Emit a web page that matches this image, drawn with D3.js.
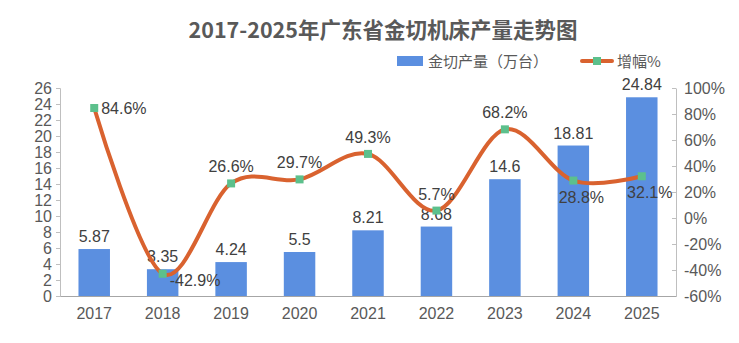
<!DOCTYPE html>
<html>
<head>
<meta charset="utf-8">
<script src="https://cdn.jsdelivr.net/npm/d3@7/dist/d3.min.js"></script>
<style>
  html, body { margin: 0; padding: 0; background: #fff; }
  svg { display: block; font-family: "Liberation Sans", Arial, "Noto Sans CJK SC", sans-serif; }
</style>
</head>
<body>
<svg id="chart" width="739" height="343"></svg>
<script>
// Guangdong metal-cutting machine tool output, 2017-2025
const years = ["2017", "2018", "2019", "2020", "2021", "2022", "2023", "2024", "2025"];
const output = [5.87, 3.35, 4.24, 5.5, 8.21, 8.68, 14.6, 18.81, 24.84];   // 万台
const growth = [84.6, -42.9, 26.6, 29.7, 49.3, 5.7, 68.2, 28.8, 32.1];    // %
const leftTicks = d3.range(0, 27, 2);
const rightTicks = d3.range(-60, 101, 20);
// where each growth label sits relative to its point
const growthLabelPos = ["right", "right", "above", "above", "above", "above", "above", "below", "below"];

const svg = d3.select("#chart");
const margin = { left: 60, right: 63, top: 88, bottom: 47 };
const W = 739, H = 343;
const x0 = margin.left, x1 = W - margin.right, yTop = margin.top, yBot = H - margin.bottom;

const axisColor = "#bfbfbf";
const textColor = "#595959";
const labelColor = "#404040";
const barColor = "#5b8fe0";
const lineColor = "#d9622f";
const markColor = "#5cc08c";

const x = d3.scaleBand().domain(years).range([x0, x1]).paddingInner(0.54).paddingOuter(0.27);
const yL = d3.scaleLinear().domain([0, 26]).range([yBot, yTop]);
const yR = d3.scaleLinear().domain([-60, 100]).range([yBot, yTop]);

// title
svg.append("text")
  .attr("x", 383).attr("y", 38)
  .attr("text-anchor", "middle")
  .attr("font-family", "'Noto Sans CJK SC', sans-serif")
  .attr("font-weight", "bold")
  .attr("font-size", 21.5)
  .attr("fill", textColor)
  .text("2017-2025年广东省金切机床产量走势图");

// legend
const lg = svg.append("g").attr("font-family", "'Noto Sans CJK SC', sans-serif").attr("font-size", 15).attr("fill", textColor);
lg.append("rect").attr("x", 397).attr("y", 56).attr("width", 26).attr("height", 10).attr("fill", barColor);
lg.append("text").attr("x", 428).attr("y", 66.5).text("金切产量（万台）");
lg.append("line").attr("x1", 582).attr("x2", 612).attr("y1", 61).attr("y2", 61)
  .attr("stroke", lineColor).attr("stroke-width", 4).attr("stroke-linecap", "round");
lg.append("rect").attr("x", 593).attr("y", 57).attr("width", 8).attr("height", 8).attr("fill", markColor);
lg.append("text").attr("x", 617).attr("y", 66.5).text("增幅%");

// left axis
const gL = svg.append("g").attr("transform", `translate(${x0},0)`)
  .call(d3.axisLeft(yL).tickValues(leftTicks).tickSize(4).tickPadding(4).tickFormat(d3.format("d")));
gL.select(".domain").attr("stroke", axisColor);
gL.selectAll(".tick line").attr("stroke", axisColor);
gL.selectAll(".tick text").attr("fill", textColor).attr("font-size", 16).attr("font-family", "'Liberation Sans', Arial, sans-serif");

// right axis (ticks point inward)
const gR = svg.append("g").attr("transform", `translate(${x1},0)`)
  .call(d3.axisRight(yR).tickValues(rightTicks).tickSize(0).tickPadding(8).tickFormat(d => d + "%"));
gR.select(".domain").attr("stroke", axisColor);
gR.selectAll(".tick").append("line").attr("x1", -4).attr("x2", 0).attr("stroke", axisColor);
gR.selectAll(".tick text").attr("fill", textColor).attr("font-size", 16).attr("font-family", "'Liberation Sans', Arial, sans-serif");

// bars
svg.append("g").selectAll("rect").data(output).join("rect")
  .attr("x", (d, i) => x(years[i]))
  .attr("width", x.bandwidth())
  .attr("y", d => yL(d))
  .attr("height", d => yBot - yL(d))
  .attr("fill", barColor);

// bottom axis
const gB = svg.append("g").attr("transform", `translate(0,${yBot})`)
  .call(d3.axisBottom(x).tickSize(0).tickPadding(12));
gB.select(".domain").attr("stroke", "#a6a6a6");
gB.selectAll(".tick text").attr("fill", textColor).attr("font-size", 16).attr("font-family", "'Liberation Sans', Arial, sans-serif");

// bar value labels
svg.append("g").selectAll("text").data(output).join("text")
  .attr("x", (d, i) => x(years[i]) + x.bandwidth() / 2)
  .attr("y", d => yL(d) - 7)
  .attr("text-anchor", "middle")
  .attr("font-size", 16)
  .attr("fill", labelColor)
  .text(d => d);

// growth line
const cx = (i) => x(years[i]) + x.bandwidth() / 2;
const line = d3.line().x((d, i) => cx(i)).y(d => yR(d)).curve(d3.curveCatmullRom.alpha(0));
svg.append("path").datum(growth)
  .attr("d", line)
  .attr("fill", "none")
  .attr("stroke", lineColor)
  .attr("stroke-width", 4)
  .attr("stroke-linejoin", "round")
  .attr("stroke-linecap", "round");

svg.append("g").selectAll("rect").data(growth).join("rect")
  .attr("x", (d, i) => cx(i) - 4)
  .attr("y", d => yR(d) - 4)
  .attr("width", 8).attr("height", 8)
  .attr("fill", markColor);

// growth value labels
svg.append("g").selectAll("text").data(growth).join("text")
  .attr("font-size", 16)
  .attr("fill", labelColor)
  .each(function (d, i) {
    const t = d3.select(this);
    const px = cx(i), py = yR(d);
    const pos = growthLabelPos[i];
    if (pos === "right") {
      t.attr("x", px + 7).attr("y", py + 6 + (d < 0 ? 6 : 0)).attr("text-anchor", "start");
    } else if (pos === "above") {
      t.attr("x", px).attr("y", py - 11).attr("text-anchor", "middle");
    } else {
      t.attr("x", px + 8).attr("y", py + 22).attr("text-anchor", "middle");
    }
    t.text(d.toFixed(1) + "%");
  });
</script>
</body>
</html>
